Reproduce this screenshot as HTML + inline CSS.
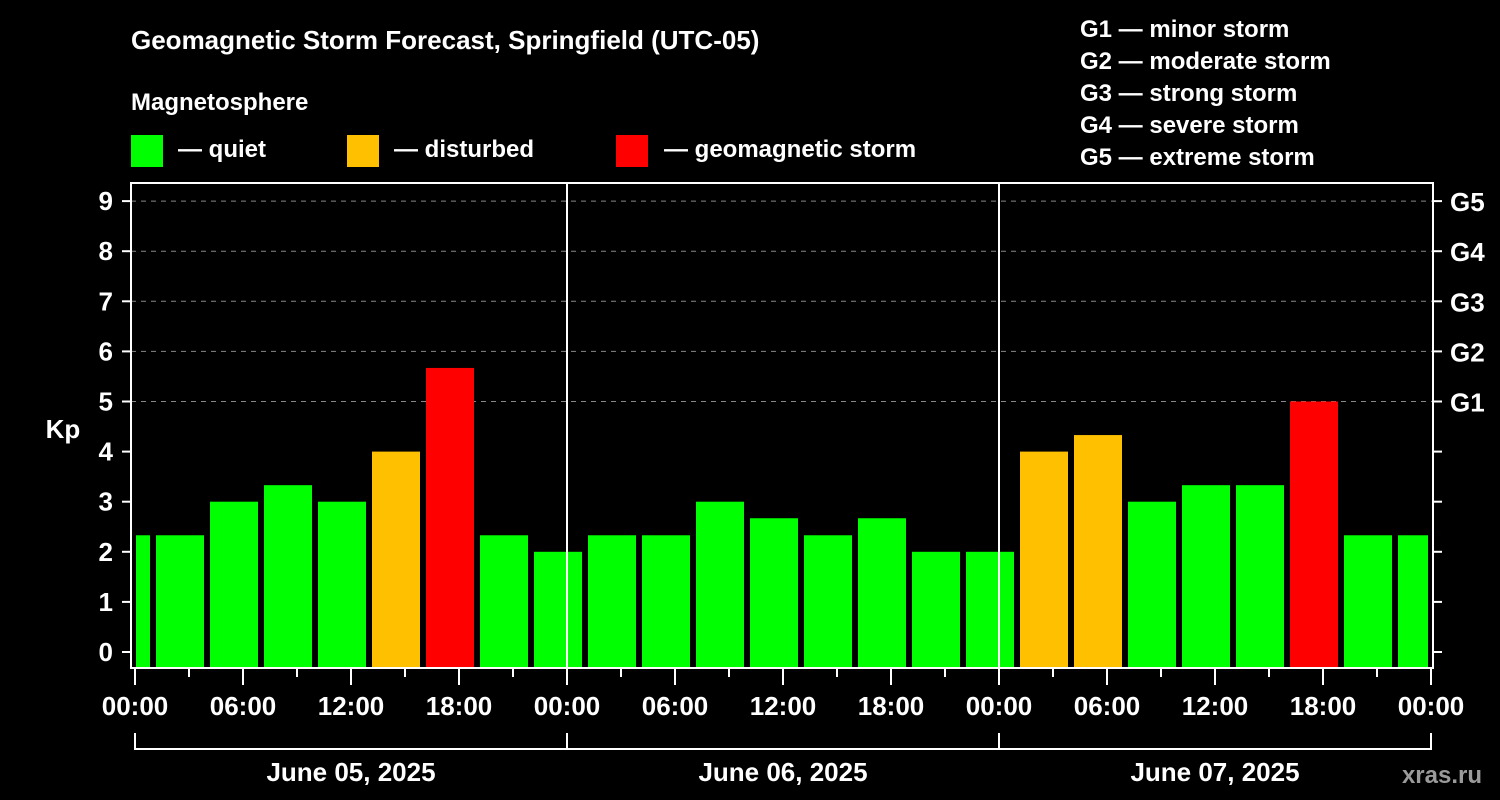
<!DOCTYPE html>
<html><head><meta charset="utf-8"><style>
body{margin:0;background:#000;}
svg{display:block;font-family:"Liberation Sans",sans-serif;font-weight:bold;}
</style></head><body>
<svg id="c" width="1500" height="800" xmlns="http://www.w3.org/2000/svg">
<rect width="1500" height="800" fill="#000"/>
<text x="131" y="49" fill="#fff" font-size="26">Geomagnetic Storm Forecast, Springfield (UTC-05)</text>
<text x="131" y="110" fill="#fff" font-size="24">Magnetosphere</text>
<g><rect x="131" y="135" width="32" height="32" fill="#00ff00"/><text x="178" y="157" fill="#fff" font-size="24">— quiet</text></g>
<g><rect x="347" y="135" width="32" height="32" fill="#ffc000"/><text x="394" y="157" fill="#fff" font-size="24">— disturbed</text></g>
<g><rect x="616" y="135" width="32" height="32" fill="#ff0000"/><text x="664" y="157" fill="#fff" font-size="24">— geomagnetic storm</text></g>
<g fill="#fff" font-size="24">
<text x="1080" y="37">G1 — minor storm</text>
<text x="1080" y="69">G2 — moderate storm</text>
<text x="1080" y="101">G3 — strong storm</text>
<text x="1080" y="133">G4 — severe storm</text>
<text x="1080" y="165">G5 — extreme storm</text>
</g>
<text x="63" y="438" fill="#fff" font-size="26" text-anchor="middle">Kp</text>
<text x="1482" y="783" fill="#9a9a9a" font-size="24" text-anchor="end">xras.ru</text>
<g id="plot"></g>
</svg>
<script>
const kpValues=[2.33,2.33,3,3.33,3,4,5.67,2.33,2,2.33,2.33,3,2.67,2.33,2.67,2,2,4,4.33,3,3.33,3.33,5,2.33,2.33];
const dayLabels=["June 05, 2025","June 06, 2025","June 07, 2025"];
const hourLabels=["00:00","06:00","12:00","18:00"];
const yTicks=[0,1,2,3,4,5,6,7,8,9];
const gLabels=["G1","G2","G3","G4","G5"];

const NS="http://www.w3.org/2000/svg";
const g=document.getElementById('plot');
const L=131,R=1433,T=183,B=668;
const x0=135,pxH=18;
const xs=h=>x0+h*pxH;
const ys=v=>652-v*50.1;
function mk(t,a,p){const e=document.createElementNS(NS,t);for(const k in a)e.setAttribute(k,a[k]);(p||g).appendChild(e);return e;}
// grid
gLabels.forEach((lab,i)=>{const v=5+i;
 const l=mk('line',{x1:L,x2:R,y1:ys(v),y2:ys(v),stroke:'#888','stroke-width':1,'stroke-dasharray':'5,5'});
 
 
 const t=mk('text',{x:1450,y:ys(v)+10,fill:'#fff','font-size':26});t.textContent=lab;
 
 
});
// bars
kpValues.forEach((v,k)=>{
 let a=xs(3*k-0.5)-24,b=xs(3*k-0.5)+24;
 a=Math.max(a,L+5);b=Math.min(b,R-5);
 const col=v>=5?'#ff0000':(v>=4?'#ffc000':'#00ff00');
 const r=mk('rect',{x:a,y:ys(v),width:b-a,height:B-ys(v),fill:col});
 
 
});
// day separators
for(let d=1;d<3;d++){const l=mk('line',{x1:xs(24*d),x2:xs(24*d),y1:T,y2:B,stroke:'#fff','stroke-width':2});
 
 }
// frame
const f=mk('rect',{x:L,y:T,width:R-L,height:B-T,fill:'none',stroke:'#fff','stroke-width':2});


// y ticks
yTicks.forEach(v=>{
 mk('line',{x1:L-9,x2:L,y1:ys(v),y2:ys(v),stroke:'#fff','stroke-width':2});
 mk('line',{x1:R,x2:R+9,y1:ys(v),y2:ys(v),stroke:'#fff','stroke-width':2});
 const t=mk('text',{x:113,y:ys(v)+9,fill:'#fff','font-size':26,'text-anchor':'end'});t.textContent=v;
 
 
});
// x ticks
for(let h=0;h<=72;h+=3){const major=h%6===0;
 mk('line',{x1:xs(h),x2:xs(h),y1:B,y2:B+(major?17:9),stroke:'#fff','stroke-width':2});
 if(major){const t=mk('text',{x:xs(h),y:715,fill:'#fff','font-size':26,'text-anchor':'middle'});t.textContent=hourLabels[(h/6)%4];
 
 }
}
// day brackets
mk('line',{x1:xs(0),x2:xs(72),y1:749,y2:749,stroke:'#fff','stroke-width':2});
for(let d=0;d<=3;d++)mk('line',{x1:xs(24*d),x2:xs(24*d),y1:733,y2:750,stroke:'#fff','stroke-width':2});
dayLabels.forEach((lab,d)=>{const t=mk('text',{x:xs(24*d+12),y:781,fill:'#fff','font-size':26,'text-anchor':'middle'});t.textContent=lab;
 
 });
</script>
</body></html>
